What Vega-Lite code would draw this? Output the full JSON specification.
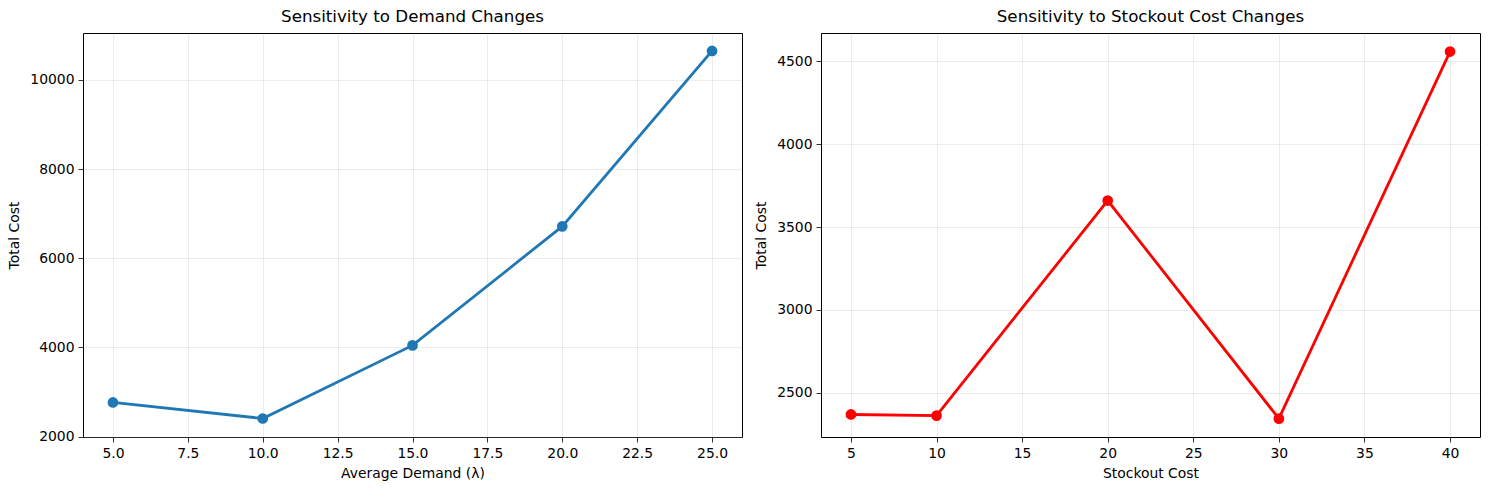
{
  "$schema": "https://vega.github.io/schema/vega-lite/v6.json",
  "autosize": {"type": "pad"},
  "padding": {"left": 7, "top": 8, "right": 5, "bottom": 5},
  "background": "white",
  "spacing": 79,
  "bounds": "flush",
  "config": {
    "font": "DejaVu Sans",
    "view": {"stroke": "black", "strokeWidth": 1},
    "axis": {
      "domain": false,
      "grid": true,
      "gridColor": "#b0b0b0",
      "gridOpacity": 0.3,
      "gridWidth": 0.8,
      "tickColor": "black",
      "tickSize": 5,
      "tickWidth": 0.8,
      "labelPadding": 4,
      "labelFontSize": 13.9,
      "labelColor": "black",
      "labelFont": "DejaVu Sans",
      "titleFont": "DejaVu Sans",
      "titleFontSize": 13.9,
      "titleFontWeight": "normal",
      "titleColor": "black"
    },
    "title": {"font": "DejaVu Sans", "fontSize": 16.7, "fontWeight": "normal", "color": "black", "offset": 7}
  },
  "datasets": {
    "demand": [
      {"lambda": 5, "cost": 2765},
      {"lambda": 10, "cost": 2405},
      {"lambda": 15, "cost": 4045},
      {"lambda": 20, "cost": 6715},
      {"lambda": 25, "cost": 10650}
    ],
    "stockout": [
      {"stockout": 5, "cost": 2368},
      {"stockout": 10, "cost": 2361},
      {"stockout": 20, "cost": 3660},
      {"stockout": 30, "cost": 2343},
      {"stockout": 40, "cost": 4560}
    ]
  },
  "hconcat": [
    {
      "title": "Sensitivity to Demand Changes",
      "width": 659,
      "height": 404,
      "data": {"name": "demand"},
      "mark": {"type": "line", "color": "#1f77b4", "strokeWidth": 2.8, "point": {"filled": true, "size": 115, "color": "#1f77b4", "opacity": 1}},
      "encoding": {
        "x": {"field": "lambda", "type": "quantitative", "title": "Average Demand (λ)",
              "scale": {"domain": [4, 26], "nice": false, "zero": false},
              "axis": {"values": [5, 7.5, 10, 12.5, 15, 17.5, 20, 22.5, 25], "format": ".1f", "titlePadding": 7}},
        "y": {"field": "cost", "type": "quantitative", "title": "Total Cost",
              "scale": {"domain": [1990, 11053], "nice": false, "zero": false},
              "axis": {"values": [2000, 4000, 6000, 8000, 10000], "format": "d", "titlePadding": 8}}
      }
    },
    {
      "title": "Sensitivity to Stockout Cost Changes",
      "width": 659,
      "height": 404,
      "data": {"name": "stockout"},
      "mark": {"type": "line", "color": "red", "strokeWidth": 2.8, "point": {"filled": true, "size": 115, "color": "red", "opacity": 1}},
      "encoding": {
        "x": {"field": "stockout", "type": "quantitative", "title": "Stockout Cost",
              "scale": {"domain": [3.25, 41.75], "nice": false, "zero": false},
              "axis": {"values": [5, 10, 15, 20, 25, 30, 35, 40], "format": "d", "titlePadding": 7}},
        "y": {"field": "cost", "type": "quantitative", "title": "Total Cost",
              "scale": {"domain": [2232, 4672], "nice": false, "zero": false},
              "axis": {"values": [2500, 3000, 3500, 4000, 4500], "format": "d", "titlePadding": 8}}
      }
    }
  ]
}
